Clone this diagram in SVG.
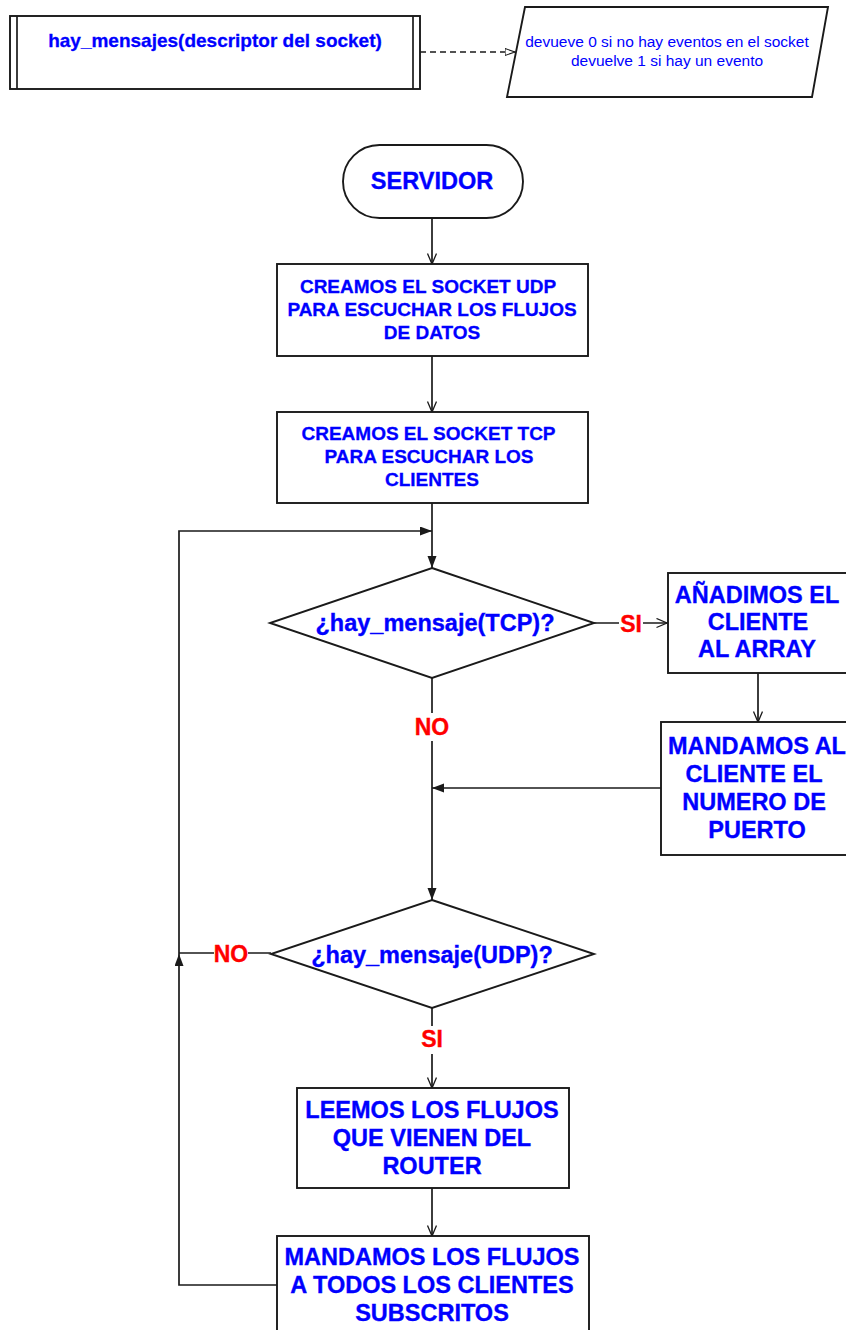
<svg xmlns="http://www.w3.org/2000/svg" width="846" height="1330" viewBox="0 0 846 1330">
  <style>
    .shape { fill: #ffffff; stroke: #1a1a1a; stroke-width: 1.9; }
    .line { fill: none; stroke: #1a1a1a; stroke-width: 1.7; }
    .dash { fill: none; stroke: #1a1a1a; stroke-width: 1.7; stroke-dasharray: 6 4; }
    .big { font-family: "Liberation Sans", Arial, sans-serif; font-weight: bold; font-size: 23.5px; fill: #0000ff; stroke: #0000ff; stroke-width: 0.35; text-anchor: middle; }
    .mid { font-family: "Liberation Sans", Arial, sans-serif; font-weight: bold; font-size: 19px; fill: #0000ff; stroke: #0000ff; stroke-width: 0.3; text-anchor: middle; }
    .note { font-family: "Liberation Sans", Arial, sans-serif; font-size: 15.5px; fill: #0000ff; text-anchor: middle; }
    .lbl { font-family: "Liberation Sans", Arial, sans-serif; font-weight: bold; font-size: 23px; fill: #ff0000; stroke: #ff0000; stroke-width: 0.35; text-anchor: middle; }
  </style>
  <defs>
    <marker id="vee" markerUnits="userSpaceOnUse" markerWidth="13" markerHeight="11" refX="11.5" refY="5" orient="auto">
      <path d="M1,0.5 L11.5,5 L1,9.5" fill="none" stroke="#1a1a1a" stroke-width="1.3"/>
    </marker>
    <marker id="tri" markerUnits="userSpaceOnUse" markerWidth="13" markerHeight="10" refX="12" refY="4.5" orient="auto">
      <path d="M0,0 L12,4.5 L0,9 z" fill="#1a1a1a"/>
    </marker>
    <marker id="hollow" markerUnits="userSpaceOnUse" markerWidth="12" markerHeight="9" refX="10.5" refY="4" orient="auto">
      <path d="M0.5,0.5 L10.5,4 L0.5,7.5 z" fill="#ffffff" stroke="#1a1a1a" stroke-width="1.1"/>
    </marker>
  </defs>

  <!-- connectors -->
  <g id="connectors">
    <path class="dash" d="M420,52 L515,52" marker-end="url(#hollow)"/>
    <path class="line" d="M432,218 L432,264" marker-end="url(#vee)"/>
    <path class="line" d="M432,356 L432,412" marker-end="url(#vee)"/>
    <path class="line" d="M432,503 L432,568" marker-end="url(#tri)"/>
    <path class="line" d="M179,954 L179,531 L432,531" marker-end="url(#tri)"/>
    <path class="line" d="M594,623 L667,623" marker-end="url(#vee)"/>
    <path class="line" d="M758,673 L758,722" marker-end="url(#vee)"/>
    <path class="line" d="M661,788 L432,788" marker-end="url(#tri)"/>
    <path class="line" d="M432,678 L432,900" marker-end="url(#tri)"/>
    <path class="line" d="M271,953 L179,953"/>
    <path class="line" d="M277,1285 L179,1285 L179,954" marker-end="url(#tri)"/>
    <path class="line" d="M432,1008 L432,1088" marker-end="url(#vee)"/>
    <path class="line" d="M432,1188 L432,1236" marker-end="url(#vee)"/>
    <!-- branch labels -->
    <rect x="619" y="612" width="24" height="24" fill="#ffffff"/>
    <text class="lbl" x="631" y="632">SI</text>
    <rect x="415" y="713" width="34" height="28" fill="#ffffff"/>
    <text class="lbl" x="432" y="735">NO</text>
    <rect x="214" y="941" width="34" height="26" fill="#ffffff"/>
    <text class="lbl" x="231" y="962">NO</text>
    <rect x="420" y="1026" width="24" height="28" fill="#ffffff"/>
    <text class="lbl" x="432" y="1047">SI</text>
  </g>

  <!-- predefined process: hay_mensajes -->
  <g id="hay-mensajes">
    <rect class="shape" x="10" y="16" width="410" height="73"/>
    <line class="line" x1="17" y1="16" x2="17" y2="89"/>
    <line class="line" x1="413" y1="16" x2="413" y2="89"/>
    <text class="mid" x="215" y="47">hay_mensajes(descriptor del socket)</text>
  </g>

  <!-- data note -->
  <g id="retorno">
    <polygon class="shape" points="525,7 828,7 812,97 507,97"/>
    <text class="note" x="667" y="47">devueve 0 si no hay eventos en el socket</text>
    <text class="note" x="667" y="66">devuelve 1 si hay un evento</text>
  </g>

  <!-- start terminator -->
  <g id="servidor">
    <rect class="shape" x="343" y="145" width="180" height="73" rx="36.5" ry="36.5"/>
    <text class="big" x="432" y="189">SERVIDOR</text>
  </g>

  <g id="socket-udp">
    <rect class="shape" x="277" y="264" width="311" height="92"/>
    <text class="mid" x="428" y="293">CREAMOS EL SOCKET UDP</text>
    <text class="mid" x="432" y="316">PARA ESCUCHAR LOS FLUJOS</text>
    <text class="mid" x="432" y="339">DE DATOS</text>
  </g>

  <g id="socket-tcp">
    <rect class="shape" x="277" y="412" width="311" height="91"/>
    <text class="mid" x="428.5" y="440">CREAMOS EL SOCKET TCP</text>
    <text class="mid" x="429" y="463">PARA ESCUCHAR LOS</text>
    <text class="mid" x="432" y="486">CLIENTES</text>
  </g>

  <g id="decision-tcp">
    <polygon class="shape" points="432,568 594,623 432,678 270,623"/>
    <text class="big" x="435" y="631">¿hay_mensaje(TCP)?</text>
  </g>

  <g id="anadir-cliente">
    <rect class="shape" x="668" y="573" width="180" height="100"/>
    <text class="big" x="757" y="603">AÑADIMOS EL</text>
    <text class="big" x="758" y="630">CLIENTE</text>
    <text class="big" x="757" y="657">AL ARRAY</text>
  </g>

  <g id="enviar-puerto">
    <rect class="shape" x="661" y="722" width="187" height="133"/>
    <text class="big" x="757" y="754">MANDAMOS AL</text>
    <text class="big" x="754" y="782">CLIENTE EL</text>
    <text class="big" x="754" y="810">NUMERO DE</text>
    <text class="big" x="757" y="838">PUERTO</text>
  </g>

  <g id="decision-udp">
    <polygon class="shape" points="432,900 594,954 432,1008 271,954"/>
    <text class="big" x="432" y="963">¿hay_mensaje(UDP)?</text>
  </g>

  <g id="leer-flujos">
    <rect class="shape" x="297" y="1088" width="272" height="100"/>
    <text class="big" x="432" y="1118">LEEMOS LOS FLUJOS</text>
    <text class="big" x="432" y="1146">QUE VIENEN DEL</text>
    <text class="big" x="432" y="1174">ROUTER</text>
  </g>

  <g id="enviar-flujos">
    <rect class="shape" x="277" y="1236" width="312" height="100"/>
    <text class="big" x="432" y="1265">MANDAMOS LOS FLUJOS</text>
    <text class="big" x="432" y="1293">A TODOS LOS CLIENTES</text>
    <text class="big" x="432" y="1321">SUBSCRITOS</text>
  </g>
</svg>
